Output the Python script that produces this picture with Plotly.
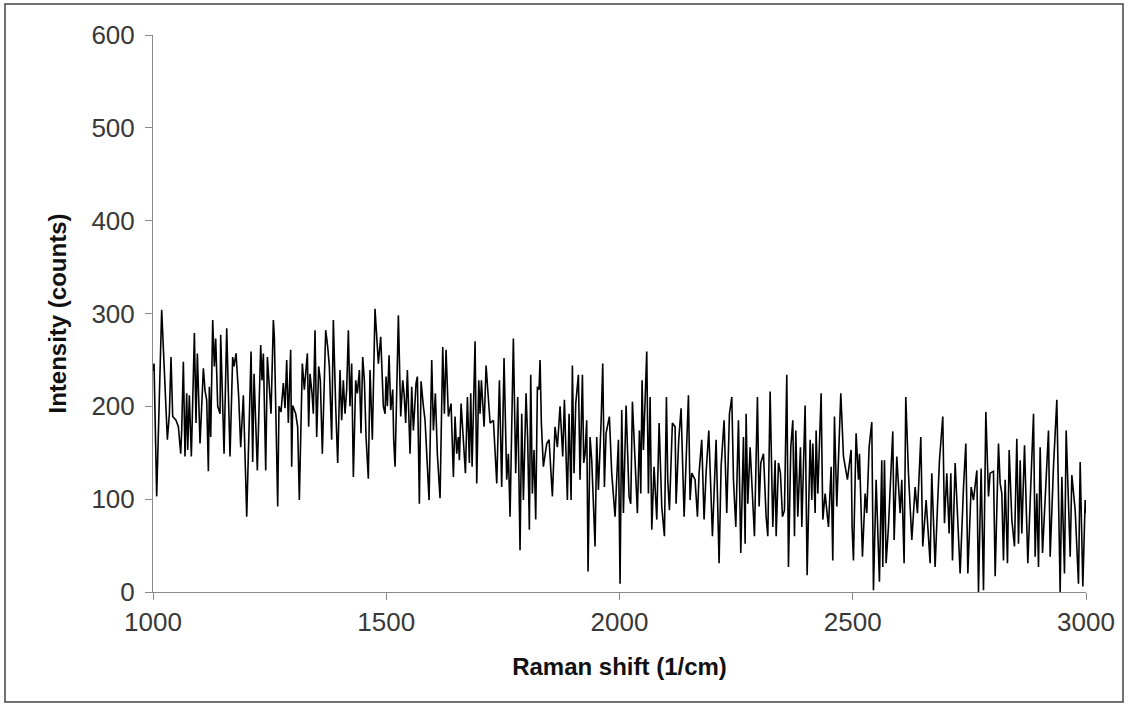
import plotly.graph_objects as go

# ---------------- data ----------------
shift_a = [1000.0, 1002.2, 1007.9, 1018.6, 1030.8, 1035.1, 1038.6, 1042.2, 1049.3, 1054.4, 1059.4, 1061.5, 1065.1, 1068.6,
           1072.2, 1074.4, 1077.9, 1082.2, 1088.7, 1092.2, 1095.1, 1100.8, 1108.0, 1111.5, 1115.1, 1118.7, 1120.8,
           1123.7, 1128.0, 1131.5, 1134.4, 1138.7, 1143.7, 1145.1, 1152.3, 1158.0, 1165.1, 1170.8, 1173.7, 1178.0,
           1183.7, 1188.0, 1193.7, 1200.9, 1210.2, 1213.7, 1216.6, 1223.7, 1230.9, 1233.7, 1236.6, 1241.6, 1245.2,
           1250.9]
counts_a = [238, 246, 103, 304, 164, 192, 253, 189, 185, 178, 149, 174, 248, 146, 214, 153, 212, 146, 279, 182, 257, 160,
            241, 217, 207, 130, 221, 167, 293, 243, 273, 200, 192, 277, 149, 284, 146, 253, 243, 257, 210, 156, 212,
            81, 259, 140, 235, 131, 266, 228, 257, 131, 253, 200]

shift_b = [1253.0, 1258.0, 1260.1, 1267.3, 1270.1, 1274.4, 1279.4, 1283.0, 1286.6, 1290.1, 1295.1, 1297.3, 1299.4,
           1305.9, 1310.1, 1313.7, 1320.1, 1324.4, 1330.9, 1333.7, 1336.6, 1340.9, 1343.7, 1347.3, 1350.9, 1355.2,
           1358.7, 1363.0, 1370.2, 1374.5, 1378.0, 1383.0, 1386.6, 1391.6, 1395.9, 1400.9, 1404.5, 1408.0, 1411.6,
           1415.2, 1418.8, 1422.3, 1425.9, 1429.5, 1434.5, 1438.1, 1442.4, 1445.9, 1449.5, 1453.1, 1456.7, 1461.6,
           1465.2, 1470.2, 1475.9, 1483.1, 1488.1, 1493.8]
counts_b = [192, 293, 275, 92, 200, 194, 225, 198, 250, 182, 261, 135, 201, 192, 178, 99, 246, 218, 257, 178, 235, 214,
            192, 282, 167, 243, 228, 149, 282, 264, 243, 164, 293, 200, 139, 239, 185, 228, 192, 218, 282, 200, 246,
            124, 228, 214, 239, 171, 253, 228, 167, 122, 239, 164, 305, 246, 275, 200]

shift_c = [1497.4, 1499.6, 1502.4, 1506.0, 1509.6, 1513.9, 1516.0, 1518.9, 1521.0, 1526.0, 1531.0, 1535.3, 1538.2,
           1541.7, 1545.3, 1551.0, 1554.6, 1558.2, 1563.9, 1566.7, 1571.0, 1574.6, 1579.6, 1583.2, 1591.8, 1597.5,
           1601.1, 1605.3, 1609.6, 1615.3, 1621.1, 1624.6, 1628.2, 1633.2, 1638.9, 1643.9, 1647.5, 1651.1, 1654.6,
           1656.8, 1660.4, 1669.7, 1674.0, 1678.2, 1681.1, 1684.0, 1690.4, 1694.0, 1698.3, 1701.1, 1704.0, 1709.7,
           1714.0, 1719.0, 1722.6, 1729.7, 1736.9, 1742.6]
counts_c = [192, 232, 200, 255, 196, 218, 164, 135, 192, 298, 189, 228, 214, 182, 239, 149, 221, 174, 225, 232, 95, 227,
            200, 185, 99, 250, 174, 214, 148, 101, 264, 192, 261, 189, 203, 124, 189, 149, 167, 142, 203, 128, 210,
            139, 214, 135, 270, 117, 228, 192, 228, 178, 244, 210, 182, 185, 117, 228]

shift_d = [1747.5, 1752.5, 1758.2, 1761.8, 1765.4, 1772.5, 1777.5, 1781.8, 1786.8, 1790.4, 1794.0, 1799.7, 1803.2,
           1806.8, 1809.7, 1813.2, 1816.8, 1820.4, 1824.0, 1827.5, 1829.7, 1832.5, 1836.8, 1844.0, 1849.0, 1856.1,
           1861.8, 1866.8, 1872.6, 1878.3, 1881.9, 1888.3, 1891.9, 1896.2, 1899.0, 1902.6, 1906.2, 1911.9, 1915.4,
           1920.5, 1923.3, 1926.2, 1929.7, 1932.6, 1936.9, 1940.5, 1944.0, 1947.6, 1951.2, 1954.8, 1960.5, 1964.1,
           1967.6, 1971.2, 1978.3, 1983.3]
counts_d = [113, 252, 121, 149, 81, 273, 128, 210, 45, 192, 99, 214, 164, 67, 234, 106, 153, 78, 221, 218, 250, 182,
            135, 160, 164, 103, 178, 156, 200, 146, 207, 99, 192, 99, 244, 128, 203, 234, 121, 234, 139, 149, 185,
            22, 167, 142, 103, 49, 167, 110, 182, 246, 113, 171, 189, 128]

shift_e = [1990.5, 1997.7, 2001.2, 2004.8, 2008.4, 2014.1, 2020.5, 2024.1, 2027.7, 2031.3, 2038.4, 2042.7, 2045.6,
           2048.4, 2051.3, 2058.4, 2062.0, 2065.6, 2069.2, 2074.1, 2079.9, 2084.9, 2090.6, 2096.3, 2100.6, 2103.4,
           2107.0, 2113.4, 2119.2, 2121.3, 2127.0, 2132.0, 2138.5, 2147.8, 2151.3, 2154.9, 2162.0, 2167.1, 2170.6,
           2176.3, 2181.3, 2185.6, 2191.4, 2199.2, 2207.1, 2213.5, 2217.8, 2224.2, 2229.9]
counts_e = [81, 164, 9, 196, 85, 201, 103, 95, 205, 164, 85, 174, 106, 228, 153, 259, 106, 210, 67, 135, 78, 182, 92,
            60, 210, 121, 88, 182, 178, 95, 164, 198, 81, 212, 99, 128, 121, 81, 128, 164, 78, 128, 174, 60, 164,
            31, 135, 185, 85]

shift_f = [2235.7, 2240.7, 2244.3, 2249.3, 2255.0, 2260.0, 2265.7, 2269.3, 2271.4, 2275.0, 2280.0, 2283.6, 2289.3,
           2295.7, 2299.3, 2302.9, 2308.6, 2314.3, 2317.9, 2322.9, 2328.6, 2333.6, 2335.8, 2340.8, 2345.0, 2349.3,
           2353.6, 2358.6, 2362.2, 2367.2, 2371.5, 2375.1, 2377.9, 2382.2, 2387.9, 2390.8, 2397.9, 2402.2, 2408.7,
           2412.2, 2414.4, 2419.4, 2421.5, 2425.1, 2432.2, 2435.8, 2440.8, 2448.0, 2453.7, 2457.2, 2460.8, 2465.8,
           2474.4, 2480.1]
counts_f = [192, 210, 121, 70, 185, 42, 167, 52, 192, 95, 156, 121, 60, 210, 92, 139, 149, 81, 60, 216, 70, 142, 60,
            139, 128, 81, 88, 234, 27, 156, 185, 60, 174, 81, 156, 70, 201, 18, 164, 99, 160, 85, 174, 106, 214, 78,
            106, 70, 135, 34, 189, 92, 214, 146]

shift_g = [2488.6, 2496.5, 2498.6, 2501.5, 2507.2, 2512.2, 2514.4, 2520.8, 2526.5, 2530.1, 2535.1, 2540.8, 2544.4,
           2550.1, 2557.2, 2562.2, 2564.4, 2568.0, 2571.5, 2576.5, 2581.5, 2585.8, 2588.7, 2594.4, 2601.5, 2605.1,
           2610.1, 2613.7, 2619.4, 2626.6, 2633.7, 2638.7, 2645.9, 2650.1, 2657.3, 2662.3, 2665.9, 2669.4, 2676.6,
           2681.6, 2685.9, 2693.0, 2696.6, 2701.6, 2706.6, 2710.2, 2713.8, 2719.5, 2726.6]
counts_g = [121, 153, 70, 34, 171, 121, 149, 38, 106, 85, 156, 183, 2, 121, 11, 142, 27, 142, 31, 70, 121, 173, 56,
            146, 85, 121, 31, 210, 128, 56, 113, 85, 167, 49, 99, 63, 31, 128, 27, 92, 142, 189, 74, 128, 63, 128,
            34, 139, 60]

shift_h = [2730.2, 2737.4, 2742.4, 2746.7, 2753.8, 2758.8, 2766.0, 2769.5, 2775.2, 2780.3, 2785.3, 2791.0, 2794.5,
           2801.7, 2805.3, 2812.4, 2816.0, 2819.6, 2823.1, 2826.7, 2831.7, 2835.3, 2841.0, 2846.7, 2851.7, 2855.3,
           2858.9, 2862.4, 2868.2, 2875.3, 2882.4, 2887.5, 2891.0, 2894.6, 2898.2, 2901.7, 2906.8, 2912.5, 2919.6,
           2923.2, 2930.3, 2937.5, 2944.6, 2948.2, 2953.9, 2957.5, 2962.5, 2966.1, 2969.6, 2976.8, 2983.9, 2987.5,
           2993.2, 2998.2, 3000.0]
counts_h = [20, 113, 160, 20, 113, 99, 131, 0, 133, 2, 194, 103, 128, 130, 17, 160, 117, 106, 34, 121, 31, 153, 78,
            49, 165, 52, 142, 63, 158, 31, 124, 192, 38, 106, 27, 156, 42, 103, 174, 38, 135, 207, 0, 124, 20, 174,
            85, 38, 126, 88, 9, 140, 6, 99, 85]

raman_shift = shift_a + shift_b + shift_c + shift_d + shift_e + shift_f + shift_g + shift_h
intensity = counts_a + counts_b + counts_c + counts_d + counts_e + counts_f + counts_g + counts_h

x_ticks = [1000, 1500, 2000, 2500, 3000]
y_ticks = [0, 100, 200, 300, 400, 500, 600]

# ---------------- figure ----------------
W, H = 1128, 706
ML, MR, MT, MB = 153, 42, 35, 114
PW, PH = W - ML - MR, H - MT - MB

FONT = "Liberation Sans, Arial, sans-serif"
AXIS_COL = "#8a8a8a"
TXT_COL = "#383838"

fig = go.Figure()
fig.add_trace(go.Scatter(x=raman_shift, y=intensity, mode="lines",
                         line=dict(color="#000000", width=1.6), showlegend=False,
                         cliponaxis=False))

# outer chart-area border (Excel style), expressed in paper coordinates
bx0, bx1, by0, by1 = 5, 1123, 4, 702
fig.add_shape(type="rect", xref="paper", yref="paper",
              x0=(bx0 - ML) / PW, x1=(bx1 - ML) / PW,
              y0=(H - MB - by1) / PH, y1=(H - MB - by0) / PH,
              line=dict(color="#444444", width=1.5), fillcolor="rgba(0,0,0,0)", layer="below")

fig.update_layout(
    width=W, height=H,
    margin=dict(l=ML, r=MR, t=MT, b=MB, pad=0),
    paper_bgcolor="white", plot_bgcolor="white",
    font=dict(family=FONT, color=TXT_COL, size=22),
    xaxis=dict(range=[1000, 3000], tickvals=x_ticks, showgrid=False, zeroline=False,
               showline=True, linecolor=AXIS_COL, linewidth=1,
               ticks="outside", ticklen=7, tickcolor=AXIS_COL, tickwidth=1,
               tickfont=dict(family=FONT, size=26, color=TXT_COL),
               title=dict(text="Raman shift (1/cm)", standoff=21,
                          font=dict(family=FONT, size=24, color="#111111", weight="bold"))),
    yaxis=dict(range=[0, 600], tickvals=y_ticks, showgrid=False, zeroline=False,
               showline=True, linecolor=AXIS_COL, linewidth=1,
               ticks="outside", ticklen=7, tickcolor=AXIS_COL, tickwidth=1,
               ticklabelstandoff=5,
               tickfont=dict(family=FONT, size=26, color=TXT_COL),
               title=dict(text="Intensity (counts)", standoff=18,
                          font=dict(family=FONT, size=24, color="#111111", weight="bold"))),
)

fig.write_html("out.html", config={"displayModeBar": False},
               post_script="document.body.style.margin='0';document.body.style.overflow='hidden';")
